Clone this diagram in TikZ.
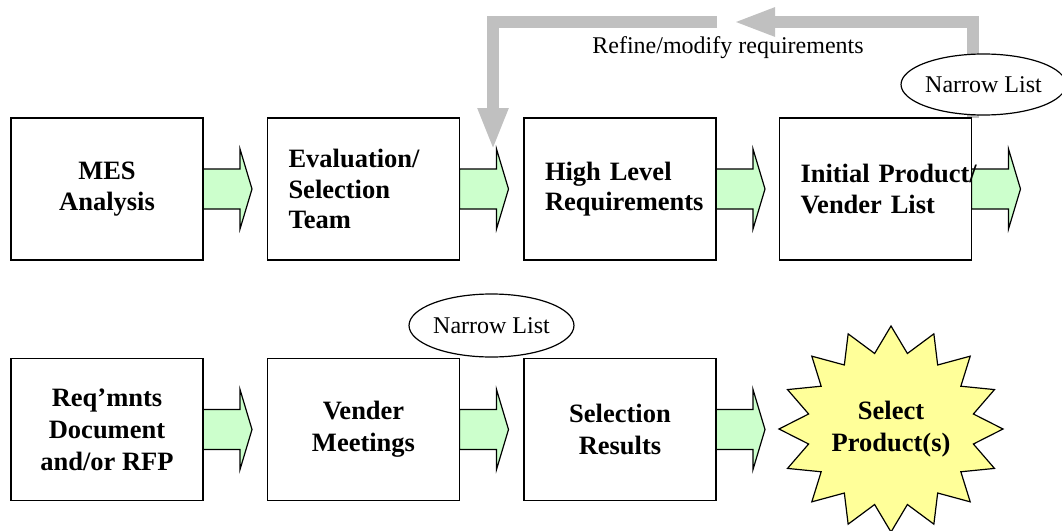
\documentclass[tikz,border=0pt]{standalone}
\usepackage{fontspec}
\setmainfont{Liberation Serif}
\usetikzlibrary{arrows.meta,shapes.geometric,calc}
\pgfdeclarelayer{back}
\pgfsetlayers{back,main}

\definecolor{flowgreen}{HTML}{CCFFCC}
\definecolor{burstyellow}{HTML}{FFFF99}
\definecolor{loopgray}{HTML}{C0C0C0}

\begin{document}
\begin{tikzpicture}[x=1pt,y=-1pt,
  boldtext/.style={font=\bfseries\fontsize{26.5}{30.5}\selectfont},
  stepbox/.style={draw, line width=1.6pt, fill=white, minimum width=192pt,
    minimum height=142pt, inner sep=0pt, outer sep=0pt, boldtext},
  boxc/.style={stepbox, align=center},
  boxl/.style={stepbox, text width=150pt, align=left},
  lowrow/.style={font=\bfseries\fontsize{26.5}{32}\selectfont},
  note/.style={ellipse, draw, line width=1.2pt, fill=white, inner sep=0pt,
    font=\fontsize{24}{28}\selectfont},
  plaintext/.style={font=\fontsize{24}{28}\selectfont, inner sep=0pt},
  arrowfill/.style={fill=flowgreen, draw=black, line width=1.2pt, line join=miter},
  feedback/.style={draw=loopgray, line width=12pt, line join=miter},
  burst/.style={fill=burstyellow, draw=black, line width=1.2pt, line join=miter},
  pics/barrow/.style={code={
    \draw[arrowfill] (0,-20) -- (37,-20) -- (37,-40) -- (49,0)
      -- (37,40) -- (37,20) -- (0,20) -- cycle;}}
]
\begin{pgfonlayer}{back}
  \fill[white] (0,0) rectangle (1062,530);
\end{pgfonlayer}
\useasboundingbox (0,0) rectangle (1062,530);

% process steps, first row
\node[boxc] (b1) at (107,189)   {MES\\Analysis};
\node[boxl] (b2) at (363.5,189) {Evaluation/\\Selection\\Team};
\node[boxl] (b3) at (620,189)   {High Level\\Requirements};
\node[boxl] (b4) at (875.5,189) {\mbox{Initial Product/}\\Vender List};

% process steps, second row
\node[boxc, lowrow] (b5) at (107,429.5)   {Req’mnts\\Document\\and/or RFP};
\node[boxc, lowrow] (b6) at (363.5,429.5) {Vender\\Meetings};
\node[boxc, lowrow] (b7) at (620,429.5)   {Selection\\Results};

% final outcome: sixteen-point burst
\begin{scope}[shift={(891,429)}]
  \draw[burst] plot[samples at={0,...,31}, variable=\k]
    ({(112-28*mod(\k,2))*cos(90+11.25*\k)}, {(103-26*mod(\k,2))*sin(90+11.25*\k)}) -- cycle;
\end{scope}
\node[boldtext, lowrow, align=center] (sel) at (891,429) {Select\\Product(s)};

% block arrows between steps, kept beneath the step labels
\begin{pgfonlayer}{back}
  \foreach \b in {b1,b2,b3,b4,b5,b6,b7}
    \pic at (\b.east) {barrow};
\end{pgfonlayer}

% narrowing notes
\node[note, minimum width=153pt, minimum height=61pt] (n1) at (983.5,84.5) {Narrow List};
\node[note, minimum width=159pt, minimum height=63pt] (n2) at (491.5,325.5) {Narrow List};

% feedback loop
\node[plaintext] (rf) at (728,48) {Refine/modify requirements};
\coordinate (loopstart) at (973,118);
\coordinate (loopturnA) at (973,22);
\coordinate (looptipA)  at (733,22);
\coordinate (looptailB) at (717,22);
\coordinate (loopturnB) at (493,22);
\coordinate (looptipB)  at (493,150);
\begin{pgfonlayer}{back}
  \draw[feedback, -{Triangle[width=26pt,length=42pt]}]
    (loopstart) -- (loopturnA) -- (looptipA);
  \draw[feedback, -{Triangle[width=28pt,length=42pt]}]
    (looptailB) -- (loopturnB) -- (looptipB);
\end{pgfonlayer}
\end{tikzpicture}
\end{document}
